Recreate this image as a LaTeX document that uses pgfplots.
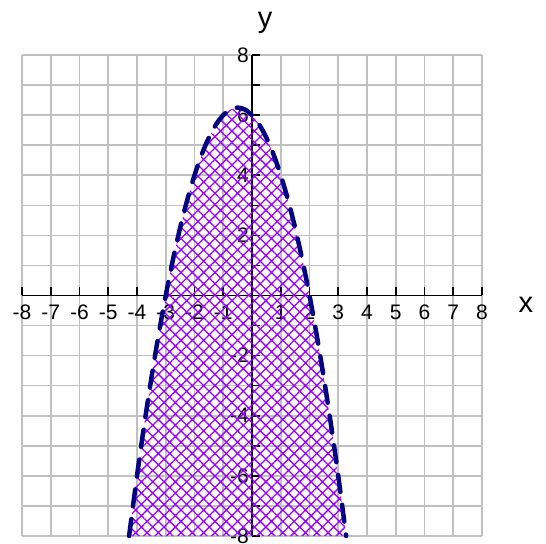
\documentclass[border=0pt]{standalone}
\usepackage{fontspec}
\setmainfont{Liberation Sans}
\usepackage{pgfplots}
\pgfplotsset{compat=1.18}
\usetikzlibrary{patterns.meta}

\definecolor{gridgray}{RGB}{192,192,192}
\definecolor{hatchviolet}{RGB}{153,0,255}
\definecolor{curvenavy}{RGB}{0,0,128}

\begin{document}
\begin{tikzpicture}
  \begin{axis}[
    scale only axis,
    width=460bp, height=481bp,
    xmin=-8, xmax=8, ymin=-8, ymax=8,
    axis lines=middle,
    axis line style={black, line width=1.6bp, -},
    %
    xtick={-8,-7,...,8},
    xticklabels={-8,-7,-6,-5,-4,-3,-2,-1,,1,2,3,4,5,6,7,8},
    ytick={-8,-6,...,8},
    yticklabels={-8,-6,-4,-2,,2,4,6,8},
    minor ytick={-7,-5,...,7},
    grid=both,
    grid style={gridgray, line width=1.6bp},
    minor grid style={gridgray, line width=1.6bp},
    tick align=inside,
    major tick length=8bp,
    minor tick length=8bp,
    tick style={black, line width=1.6bp},
    tick label style={font=\fontsize{21bp}{24bp}\selectfont, inner sep=1bp},
    x tick label style={anchor=north, yshift=-8bp},
    y tick label style={anchor=east, xshift=-2bp},
    %
    xlabel={x}, ylabel={y},
    every axis x label/.style={at={(axis cs:8,0)}, anchor=west,
      xshift=33bp, yshift=-9bp, font=\fontsize{29bp}{32bp}\selectfont},
    every axis y label/.style={at={(axis cs:0,8)}, anchor=base,
      xshift=13bp, yshift=27bp, font=\fontsize{29bp}{32bp}\selectfont},
    clip=false,
  ]
    % shaded region below y = -x^2 - x + 6
    \addplot[draw=none, pattern={Hatch[angle=45, distance=8bp, line width=1.3bp]},
      pattern color=hatchviolet]
      coordinates {
        (-4.275,-8) (-4,-6) (-3.75,-4.3125) (-3.5,-2.75) (-3.25,-1.3125)
        (-3,0) (-2.75,1.1875) (-2.5,2.25) (-2.25,3.1875) (-2,4)
        (-1.75,4.6875) (-1.5,5.25) (-1.25,5.6875) (-1,6) (-0.75,6.1875)
        (-0.5,6.25) (-0.25,6.1875) (0,6) (0.25,5.6875) (0.5,5.25)
        (0.75,4.6875) (1,4) (1.25,3.1875) (1.5,2.25) (1.75,1.1875)
        (2,0) (2.25,-1.3125) (2.5,-2.75) (2.75,-4.3125) (3,-6) (3.275,-8)
      } -- cycle;
    % dashed boundary
    \addplot[smooth, curvenavy, line width=4.5bp, line cap=round,
      dash pattern=on 17bp off 13bp]
      coordinates {
        (-4.275,-8) (-4,-6) (-3.75,-4.3125) (-3.5,-2.75) (-3.25,-1.3125)
        (-3,0) (-2.75,1.1875) (-2.5,2.25) (-2.25,3.1875) (-2,4)
        (-1.75,4.6875) (-1.5,5.25) (-1.25,5.6875) (-1,6) (-0.75,6.1875)
        (-0.5,6.25) (-0.25,6.1875) (0,6) (0.25,5.6875) (0.5,5.25)
        (0.75,4.6875) (1,4) (1.25,3.1875) (1.5,2.25) (1.75,1.1875)
        (2,0) (2.25,-1.3125) (2.5,-2.75) (2.75,-4.3125) (3,-6) (3.275,-8)
      };
    \coordinate (ll) at (rel axis cs:0,0);
  \end{axis}
  \pgfresetboundingbox
  \path ([shift={(-22bp,-8bp)}]ll) rectangle ++(546bp,544bp);
\end{tikzpicture}
\end{document}
